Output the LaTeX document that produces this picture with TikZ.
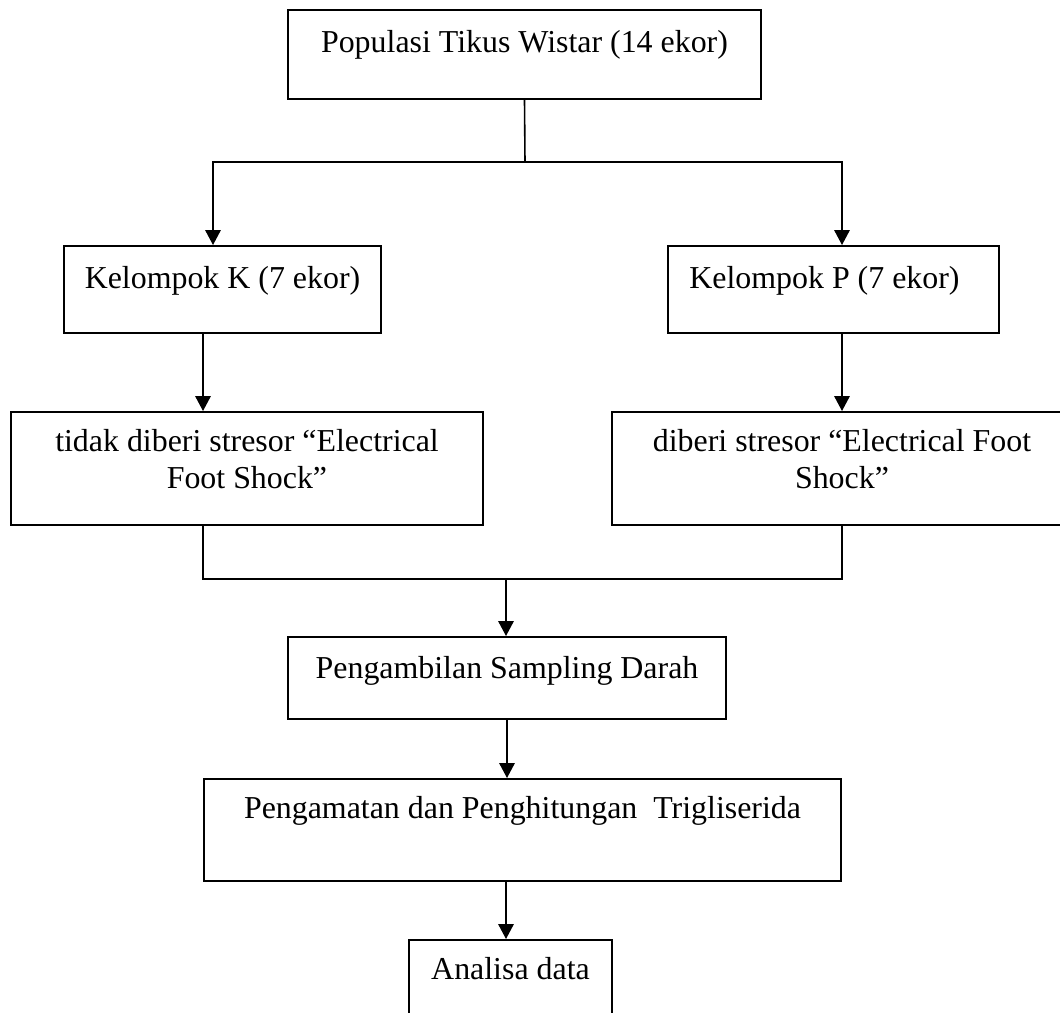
\documentclass[tikz,border=0pt]{standalone}
\usepackage{fontspec}
\setmainfont{Liberation Serif}
\usepackage{tikz}
\usetikzlibrary{positioning,calc,arrows.meta}
\tikzset{>={Triangle[length=5.6pt,width=5.8pt]}}
\newcommand*{\px}{0.3762pt}
\tikzset{kotak/.style={draw,line width=0.8pt,inner sep=0pt,anchor=north,align=center,
  font=\fontsize{12pt}{13.9pt}\selectfont}}

\begin{document}
\begin{tikzpicture}[x=\px,y=-\px,line width=0.6pt]
\path[use as bounding box,clip] (0,0) rectangle (1060,1012);
% Draw the boxes
\node[kotak,minimum width=473*\px,text height=15.8pt,text depth=17.7pt] (populasi) at (524.5,9) {Populasi Tikus Wistar (14 ekor)};
\node[kotak,minimum width=317*\px,text height=15.8pt,text depth=16.9pt] (kelk) at (222.5,245) {Kelompok K (7 ekor)};
\node[kotak,minimum width=331*\px,text height=15.8pt,text depth=16.9pt] (kelp) at (833.5,245) {Kelompok P (7 ekor)\hspace*{6.8pt}};
\node[kotak,minimum width=472*\px,text height=28.6pt,text depth=13.9pt] (stresk) at (247,411) {tidak diberi stresor “Electrical\\Foot Shock”};
\node[kotak,minimum width=460*\px,text height=28.6pt,text depth=13.9pt] (stresp) at (842,411) {diberi stresor “Electrical Foot\\Shock”};
\node[kotak,minimum width=438*\px,text height=15.4pt,text depth=15.4pt] (sampling) at (507,636) {Pengambilan Sampling Darah};
\node[kotak,minimum width=637*\px,text height=15pt,text depth=23.3pt] (hitung) at (522.5,778) {Pengamatan dan Penghitungan \ Trigliserida};
\node[kotak,minimum width=203*\px,text height=15pt,text depth=18.8pt] (analisa) at (510.5,939) {Analisa data};

% Split into the two groups
\coordinate (split) at (525,162);
\coordinate (kin) at (213,245);
\coordinate (pin) at (842,245);
\draw (populasi.south) -- (split);
\draw[->] (split) -| (kin);
\draw[->] (split) -| (pin);

% Group to treatment
\coordinate (kout) at (203,332);
\draw[->] (kout) -- (kout |- stresk.north);
\draw[->] (kelp.south -| stresp.north) -- (stresp.north);

% Join the two treatments
\coordinate (merge) at (506,579);
\draw (kout |- stresk.south) |- (merge);
\draw (stresp.south) |- (merge);
\draw[->] (merge) -- (merge |- sampling.north);

% Sampling to counting to analysis
\draw[->] (sampling.south) -- (sampling.south |- hitung.north);
\coordinate (hout) at (506,880);
\draw[->] (hout) -- (hout |- analisa.north);
\end{tikzpicture}
\end{document}
